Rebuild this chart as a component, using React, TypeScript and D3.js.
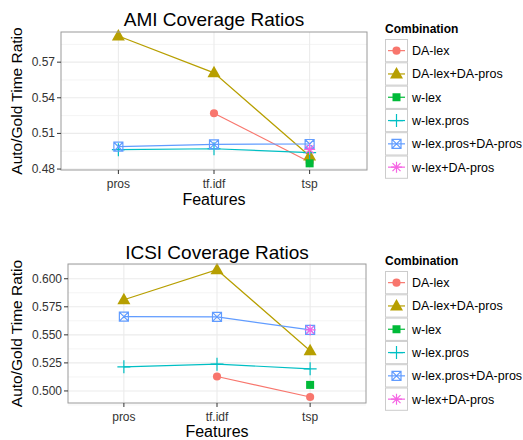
import React, { useEffect, useRef } from 'react';
import * as d3 from 'd3';

const categories = ['pros', 'tf.idf', 'tsp'];
const combos = ['DA-lex', 'DA-lex+DA-pros', 'w-lex', 'w-lex.pros', 'w-lex.pros+DA-pros', 'w-lex+DA-pros'];
const colors = ['#F8766D', '#B79F00', '#00BA38', '#00BFC4', '#619CFF', '#F564E3'];
const shapes = ['circle', 'triangle', 'square', 'plus', 'squarecross', 'asterisk'];

// AMI values per combination (null = not measured)
const amiDALex = [null, 0.527, 0.486];
const amiDALexDAPros = [0.592, 0.561, 0.491];
const amiWLex = [null, null, 0.4848];
const amiWLexPros = [0.4963, 0.4971, 0.4939];
const amiWLexProsDAPros = [0.4988, 0.5008, 0.5011];
const amiWLexDAPros = [null, null, 0.4966];
const amiTicks = [0.48, 0.51, 0.54, 0.57];
const amiMinor = [0.495, 0.525, 0.555, 0.585];

// ICSI values
const icsiDALex = [null, 0.5129, 0.4946];
const icsiDALexDAPros = [0.5813, 0.6081, 0.5358];
const icsiWLex = [null, null, 0.5054];
const icsiWLexPros = [0.5215, 0.5239, 0.5197];
const icsiWLexProsDAPros = [0.5663, 0.566, 0.5544];
const icsiWLexDAPros = [null, null, 0.5544];
const icsiTicks = [0.5, 0.525, 0.55, 0.575, 0.6];
const icsiMinor = [0.4875, 0.5125, 0.5375, 0.5625, 0.5875, 0.6125];

const FONT = '"Liberation Sans", Arial, sans-serif';

function shapePath(shape: string) {
  switch (shape) {
    case 'circle': return { d: d3.symbol(d3.symbolCircle, 52)()!, fill: true };
    case 'triangle': return { d: 'M0,-7L6.5,4.5L-6.5,4.5Z', fill: true };
    case 'square': return { d: 'M-4,-4H4V4H-4Z', fill: true };
    case 'plus': return { d: 'M-6.5,0H6.5M0,-6.5V6.5', fill: false };
    case 'squarecross': return { d: 'M-4.5,-4.5H4.5V4.5H-4.5ZM-4.5,-4.5L4.5,4.5M4.5,-4.5L-4.5,4.5', fill: false };
    default: return { d: 'M-5.5,0H5.5M0,-5.5V5.5M-4,-4L4,4M4,-4L-4,4', fill: false };
  }
}

function drawPoint(g: any, shape: string, color: string, x: number, y: number) {
  const s = shapePath(shape);
  g.append('path')
    .attr('d', s.d)
    .attr('transform', `translate(${x},${y})`)
    .attr('fill', s.fill ? color : 'none')
    .attr('stroke', color)
    .attr('stroke-width', s.fill ? 0 : 1.2);
}

function drawPanel(svg: any, opts: any) {
  const { title, series, ticks, minor, domain, left, right, top, bottom, tickFmt, titleY, tickLabelY, xLabelY } = opts;
  const x = d3.scalePoint().domain(categories).range([left, right]).padding(0.6);
  const y = d3.scaleLinear().domain(domain).range([bottom, top]);
  const g = svg.append('g');

  g.append('rect').attr('x', left).attr('y', top).attr('width', right - left).attr('height', bottom - top).attr('fill', 'white');
  minor.forEach((v: number) => {
    g.append('line').attr('x1', left).attr('x2', right).attr('y1', y(v)).attr('y2', y(v))
      .attr('stroke', '#F4F4F4').attr('stroke-width', 1);
  });
  ticks.forEach((v: number) => {
    g.append('line').attr('x1', left).attr('x2', right).attr('y1', y(v)).attr('y2', y(v))
      .attr('stroke', '#EBEBEB').attr('stroke-width', 1.1);
  });
  categories.forEach((c) => {
    g.append('line').attr('x1', x(c)).attr('x2', x(c)).attr('y1', top).attr('y2', bottom)
      .attr('stroke', '#EBEBEB').attr('stroke-width', 1.1);
  });

  const line = d3.line<any>()
    .defined((d) => d != null)
    .x((d, i) => x(categories[i])!)
    .y((d) => y(d));

  series.forEach((vals: (number | null)[], si: number) => {
    g.append('path').datum(vals).attr('d', line).attr('fill', 'none')
      .attr('stroke', colors[si]).attr('stroke-width', 1.2);
  });
  series.forEach((vals: (number | null)[], si: number) => {
    vals.forEach((v, i) => {
      if (v == null) return;
      drawPoint(g, shapes[si], colors[si], x(categories[i])!, y(v));
    });
  });

  g.append('rect').attr('x', left).attr('y', top).attr('width', right - left).attr('height', bottom - top)
    .attr('fill', 'none').attr('stroke', '#9A9A9A').attr('stroke-width', 1);

  // axes
  ticks.forEach((v: number) => {
    g.append('line').attr('x1', left - 4).attr('x2', left).attr('y1', y(v)).attr('y2', y(v))
      .attr('stroke', '#333').attr('stroke-width', 1);
    g.append('text').attr('x', left - 6).attr('y', y(v) + 4).attr('text-anchor', 'end')
      .attr('font-size', 12).attr('fill', '#333').text(tickFmt(v));
  });
  categories.forEach((c) => {
    g.append('line').attr('x1', x(c)).attr('x2', x(c)).attr('y1', bottom).attr('y2', bottom + 4)
      .attr('stroke', '#333').attr('stroke-width', 1);
    g.append('text').attr('x', x(c)).attr('y', tickLabelY).attr('text-anchor', 'middle')
      .attr('font-size', 12).attr('fill', '#333').text(c);
  });

  g.append('text').attr('x', (left + right) / 2).attr('y', titleY).attr('text-anchor', 'middle')
    .attr('font-size', 19).attr('fill', 'black').text(title);
  g.append('text').attr('x', (left + right) / 2).attr('y', xLabelY).attr('text-anchor', 'middle')
    .attr('font-size', 16).attr('fill', 'black').text('Features');
  g.append('text').attr('transform', `translate(22,${(top + bottom) / 2}) rotate(-90)`)
    .attr('text-anchor', 'middle').attr('font-size', 15.5).attr('fill', 'black').text('Auto/Gold Time Ratio');

  // legend
  const lx = 385;
  const ly = opts.legendTop;
  const keyH = 23.3;
  g.append('text').attr('x', lx).attr('y', ly - 6).attr('font-size', 12).attr('font-weight', 'bold')
    .attr('fill', 'black').text('Combination');
  combos.forEach((name, i) => {
    const ky = ly + i * keyH;
    g.append('rect').attr('x', lx + 0.5).attr('y', ky + 0.5).attr('width', 22).attr('height', keyH - 1)
      .attr('fill', '#FFFFFF').attr('stroke', '#CCCCCC').attr('stroke-width', 1);
    g.append('line').attr('x1', lx + 3).attr('x2', lx + 20).attr('y1', ky + keyH / 2).attr('y2', ky + keyH / 2)
      .attr('stroke', colors[i]).attr('stroke-width', 1.2);
    drawPoint(g, shapes[i], colors[i], lx + 11.5, ky + keyH / 2);
    g.append('text').attr('x', lx + 27).attr('y', ky + keyH / 2 + 4.5).attr('font-size', 12.5)
      .attr('fill', 'black').text(name);
  });
}

const App = () => {
  const ref = useRef<SVGSVGElement>(null);

  useEffect(() => {
    const svg = d3.select(ref.current);
    svg.selectAll('*').remove();
    svg.append('rect').attr('width', 523).attr('height', 440).attr('fill', 'white');

    drawPanel(svg, {
      title: 'AMI Coverage Ratios',
      series: [amiDALex, amiDALexDAPros, amiWLex, amiWLexPros, amiWLexProsDAPros, amiWLexDAPros],
      ticks: amiTicks, minor: amiMinor,
      domain: [0.4792, 0.5954],
      left: 61, right: 367, top: 32, bottom: 170,
      tickFmt: d3.format('.2f'),
      titleY: 26, tickLabelY: 188, xLabelY: 205,
      legendTop: 39,
    });
    drawPanel(svg, {
      title: 'ICSI Coverage Ratios',
      series: [icsiDALex, icsiDALexDAPros, icsiWLex, icsiWLexPros, icsiWLexProsDAPros, icsiWLexDAPros],
      ticks: icsiTicks, minor: icsiMinor,
      domain: [0.48926, 0.61316],
      left: 68, right: 366, top: 264, bottom: 403,
      tickFmt: d3.format('.3f'),
      titleY: 259, tickLabelY: 421, xLabelY: 437,
      legendTop: 271,
    });
  }, []);

  return (
    <svg ref={ref} width={523} height={440}
      style={{ position: 'absolute', left: 0, top: 0, fontFamily: FONT }} />
  );
};

export default App;
